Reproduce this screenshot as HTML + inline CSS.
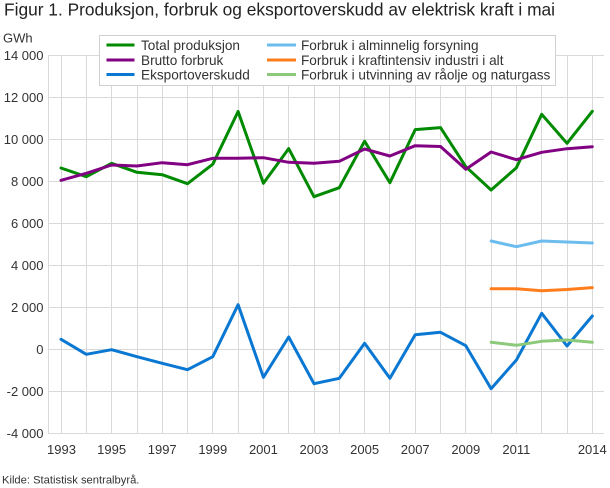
<!DOCTYPE html>
<html>
<head>
<meta charset="utf-8">
<style>
  html, body { margin:0; padding:0; background:#fff; }
  svg { display:block; }
  text { font-family: "Liberation Sans", "DejaVu Sans", sans-serif; }
</style>
</head>
<body>
<svg width="610" height="488" viewBox="0 0 610 488" xmlns="http://www.w3.org/2000/svg">
  <rect x="0" y="0" width="610" height="488" fill="#fff"/>
  <!-- Title -->
  <text x="4" y="15.5" font-size="17.3" fill="#222" textLength="551" lengthAdjust="spacingAndGlyphs">Figur 1. Produksjon, forbruk og eksportoverskudd av elektrisk kraft i mai</text>
  <text x="3" y="42.5" font-size="13" fill="#333">GWh</text>

  <!-- grid -->
  <g stroke="#d9d9d9" stroke-width="1" fill="none">
    <line x1="49" y1="55.5" x2="604" y2="55.5"/>
    <line x1="49" y1="97.5" x2="604" y2="97.5"/>
    <line x1="49" y1="139.5" x2="604" y2="139.5"/>
    <line x1="49" y1="181.5" x2="604" y2="181.5"/>
    <line x1="49" y1="223.5" x2="604" y2="223.5"/>
    <line x1="49" y1="265.5" x2="604" y2="265.5"/>
    <line x1="49" y1="307.5" x2="604" y2="307.5"/>
    <line x1="49" y1="349.5" x2="604" y2="349.5"/>
    <line x1="49" y1="391.5" x2="604" y2="391.5"/>
    <line x1="49" y1="433.5" x2="604" y2="433.5"/>
    <line x1="48.5" y1="55" x2="48.5" y2="434"/>
    <line x1="61.5" y1="55" x2="61.5" y2="434"/>
    <line x1="86.5" y1="55" x2="86.5" y2="434"/>
    <line x1="111.5" y1="55" x2="111.5" y2="434"/>
    <line x1="137.5" y1="55" x2="137.5" y2="434"/>
    <line x1="162.5" y1="55" x2="162.5" y2="434"/>
    <line x1="187.5" y1="55" x2="187.5" y2="434"/>
    <line x1="212.5" y1="55" x2="212.5" y2="434"/>
    <line x1="238.5" y1="55" x2="238.5" y2="434"/>
    <line x1="263.5" y1="55" x2="263.5" y2="434"/>
    <line x1="288.5" y1="55" x2="288.5" y2="434"/>
    <line x1="314.5" y1="55" x2="314.5" y2="434"/>
    <line x1="339.5" y1="55" x2="339.5" y2="434"/>
    <line x1="364.5" y1="55" x2="364.5" y2="434"/>
    <line x1="389.5" y1="55" x2="389.5" y2="434"/>
    <line x1="415.5" y1="55" x2="415.5" y2="434"/>
    <line x1="440.5" y1="55" x2="440.5" y2="434"/>
    <line x1="465.5" y1="55" x2="465.5" y2="434"/>
    <line x1="491.5" y1="55" x2="491.5" y2="434"/>
    <line x1="516.5" y1="55" x2="516.5" y2="434"/>
    <line x1="541.5" y1="55" x2="541.5" y2="434"/>
    <line x1="567.5" y1="55" x2="567.5" y2="434"/>
    <line x1="592.5" y1="55" x2="592.5" y2="434"/>
  </g>

  <!-- y labels -->
  <g font-size="13" fill="#333" text-anchor="end">
    <text x="43.5" y="60">14 000</text>
    <text x="43.5" y="102">12 000</text>
    <text x="43.5" y="144">10 000</text>
    <text x="43.5" y="186">8 000</text>
    <text x="43.5" y="228">6 000</text>
    <text x="43.5" y="270">4 000</text>
    <text x="43.5" y="312">2 000</text>
    <text x="43.5" y="354">0</text>
    <text x="43.5" y="396">-2 000</text>
    <text x="43.5" y="438">-4 000</text>
  </g>

  <!-- x labels -->
  <g font-size="13" fill="#333" text-anchor="middle">
    <text x="61.5" y="454">1993</text>
    <text x="111.6" y="454">1995</text>
    <text x="162.2" y="454">1997</text>
    <text x="212.8" y="454">1999</text>
    <text x="263.4" y="454">2001</text>
    <text x="314" y="454">2003</text>
    <text x="364.6" y="454">2005</text>
    <text x="415.2" y="454">2007</text>
    <text x="465.8" y="454">2009</text>
    <text x="516.4" y="454">2011</text>
    <text x="592.3" y="454">2014</text>
  </g>

  <!-- series -->
  <g fill="none" stroke-width="3" stroke-linejoin="round" stroke-linecap="round">
    <polyline stroke="#008a00" points="61,168 86.3,176.7 111.6,163.3 136.9,172.3 162.2,174.7 187.5,183.7 212.8,164.2 238.1,111.5 263.4,183.3 288.7,148.6 314,196.7 339.3,187.7 364.6,141.2 389.9,182.7 415.2,129.6 440.5,127.6 465.8,166.7 491.1,190 516.4,167.7 541.7,114.3 567,143.3 592.3,111.3"/>
    <polyline stroke="#820082" points="61,180.3 86.3,173.3 111.6,165 136.9,166 162.2,162.7 187.5,164.7 212.8,158.3 238.1,158.3 263.4,157.7 288.7,162.3 314,163.3 339.3,161.3 364.6,149 389.9,156 415.2,145.7 440.5,146.5 465.8,169.3 491.1,152 516.4,159.7 541.7,152.3 567,148.7 592.3,146.7"/>
    <polyline stroke="#0a78d2" points="61,339.3 86.3,354.3 111.6,349.7 136.9,356.7 162.2,363.3 187.5,369.7 212.8,356.7 238.1,304.7 263.4,377.3 288.7,337 314,383.7 339.3,378.3 364.6,343.3 389.9,378.3 415.2,334.7 440.5,332.3 465.8,345.7 491.1,388.7 516.4,360 541.7,313.3 567,346 592.3,316"/>
    <polyline stroke="#6cbcee" points="491.1,241 516.4,246.7 541.7,241 567,242 592.3,243"/>
    <polyline stroke="#ff7d1c" points="491.1,288.7 516.4,288.7 541.7,290.8 567,289.5 592.3,287.6"/>
    <polyline stroke="#8cc97a" points="491.1,342.3 516.4,345.3 541.7,341.3 567,340 592.3,342.3"/>
  </g>

  <!-- legend -->
  <rect x="99.5" y="35.5" width="456" height="50" fill="#fff" stroke="#d0d0d0" stroke-width="1"/>
  <g stroke-width="3">
    <line x1="106.5" y1="45" x2="134.5" y2="45" stroke="#008a00"/>
    <line x1="106.5" y1="60" x2="134.5" y2="60" stroke="#820082"/>
    <line x1="106.5" y1="74.5" x2="134.5" y2="74.5" stroke="#0a78d2"/>
    <line x1="267" y1="45" x2="296" y2="45" stroke="#6cbcee"/>
    <line x1="267" y1="60" x2="296" y2="60" stroke="#ff7d1c"/>
    <line x1="267" y1="74.5" x2="296" y2="74.5" stroke="#8cc97a"/>
  </g>
  <g font-size="13.6" fill="#333">
    <text x="141" y="50">Total produksjon</text>
    <text x="141" y="65">Brutto forbruk</text>
    <text x="141" y="79.5">Eksportoverskudd</text>
    <text x="301" y="50">Forbruk i alminnelig forsyning</text>
    <text x="301" y="65">Forbruk i kraftintensiv industri i alt</text>
    <text x="301" y="79.5">Forbruk i utvinning av råolje og naturgass</text>
  </g>

  <!-- source -->
  <text x="2" y="483.5" font-size="11.2" fill="#333">Kilde: Statistisk sentralbyrå.</text>
</svg>
</body>
</html>
